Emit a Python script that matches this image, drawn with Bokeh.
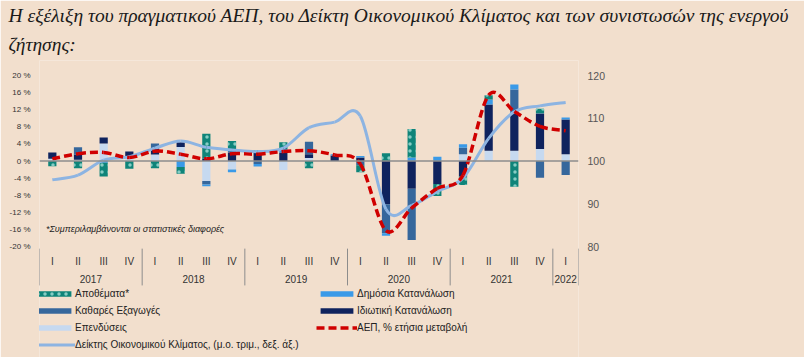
import numpy as np
from bokeh.plotting import figure
from bokeh.models import (Range1d, LinearAxis, FixedTicker, Span, Label, Legend,
                          LegendItem, CustomJSTickFormatter, Title)
from bokeh.embed import file_html
from bokeh.resources import INLINE
from bokeh.core.properties import value

# ---------------- data ----------------
quarters = ["I", "II", "III", "IV"] * 5 + ["I"]
years = ["2017", "2018", "2019", "2020", "2021", "2022"]
quarters_per_year = [4, 4, 4, 4, 4, 1]

# contributions to GDP growth (percentage points)
investment   = [0.5, 0.3, 4.1, 0.8, 1.5, 3.3, -4.7, -2.0, 0.0, -2.1, 0.7, 0.0, 0.0, 0.0, 0.0, 0.0, 1.6, 2.4, 2.4, 2.8, 1.6]
private_cons = [1.5, 1.2, 1.4, 1.4, 1.3, 1.1, 0.6, 2.0, 2.1, 2.0, 0.9, 1.3, 0.8, -10.1, -6.5, -5.4, -3.6, 10.8, 8.8, 8.3, 8.1]
net_exports  = [0.0, 1.7, 0.0, 0.0, 1.3, 0.0, -0.8, 0.4, -0.7, 0.0, 2.9, 0.0, -1.0, -6.8, -12.0, 0.0, 1.5, 0.0, 5.5, -3.9, -3.3]
public_cons  = [0.0, 0.0, -0.4, 0.0, 0.0, -1.4, -0.4, -0.6, -0.6, 0.8, 0.0, 0.3, 0.4, -0.6, 0.8, 1.0, 0.8, 1.2, 1.2, 0.1, 0.5]
inventories  = [-1.2, -1.7, -3.2, -1.8, -1.7, -1.6, 5.8, 2.3, 0.5, 1.6, -1.7, 0.0, -1.6, 1.8, 6.7, -2.8, -2.0, 1.0, -6.0, 1.0, 0.0]

gdp_yoy = [0.5, 1.7, 2.0, 0.8, 2.3, 1.6, 0.5, 1.7, 1.6, 2.2, 2.4, 1.4, -0.7, -16.3, -11.0, -6.4, -3.3, 15.4, 11.6, 8.1, 7.1]
climate = [95.6, 96.7, 100.2, 101.0, 103.0, 104.7, 103.2, 102.6, 102.2, 103.0, 107.8, 109.1, 110.5, 88.7, 89.6, 92.9, 96.0, 105.3, 111.5, 112.9, 113.7]

left_ticks = [-20, -16, -12, -8, -4, 0, 4, 8, 12, 16, 20]
right_ticks = [80, 90, 100, 110, 120]

series_names = ["Επενδύσεις", "Ιδιωτική Κατανάλωση", "Καθαρές Εξαγωγές",
                "Δημόσια Κατανάλωση", "Αποθέματα*"]
gdp_name = "ΑΕΠ, % ετήσια μεταβολή"
climate_name = "Δείκτης Οικονομικού Κλίματος, (μ.ο. τριμ., δεξ. άξ.)"
title_lines = ["Η εξέλιξη του πραγματικού ΑΕΠ, του Δείκτη Οικονομικού Κλίματος και των συνιστωσών της ενεργού",
               "ζήτησης:"]
footnote = "*Συμπεριλαμβάνονται οι στατιστικές διαφορές"

# ---------------- style ----------------
BG = "#f2dfcd"
C_INV = "#c6d9f0"
C_PRIV = "#0f235e"
C_NET = "#36679c"
C_PUB = "#3a9ae8"
C_STK = "#0f8479"
C_RED = "#d00000"
C_CLIM = "#8db4e2"
SANS = "Liberation Sans"

n = len(quarters)
xs = np.arange(1, n + 1, dtype=float)

Y0, Y1 = -45.96, 23.51
p = figure(width=804, height=357, x_range=Range1d(0.5, n + 0.5), y_range=Range1d(Y0, Y1),
           output_backend="svg", toolbar_location=None, x_axis_location=None,
           min_border_left=39, min_border_right=226, min_border_top=60, min_border_bottom=0,
           background_fill_color=BG, border_fill_color=BG, outline_line_color=None)
p.grid.visible = False

# title (two lines; the one added last sits on top)
for t, so in zip(reversed(title_lines), [12, 0]):
    p.add_layout(Title(text=t, align="left", offset=-31, standoff=so,
                       text_font="Liberation Serif", text_font_style="italic",
                       text_font_size="19.5px", text_color="#1a1a1a"), "above")

# left axis
ya = p.yaxis[0]
ya.ticker = FixedTicker(ticks=left_ticks)
ya.formatter = CustomJSTickFormatter(code="return tick + ' %'")
# right axis
p.extra_y_ranges = {"clim": Range1d(Y0 + 100, Y1 + 100)}
ra = LinearAxis(y_range_name="clim", ticker=FixedTicker(ticks=right_ticks))
p.add_layout(ra, "right")
for ax, fs, col in ((ya, "8px", "#333333"), (ra, "10.5px", "#555555")):
    ax.axis_line_color = None
    ax.major_tick_line_color = None
    ax.minor_tick_line_color = None
    ax.major_tick_in = 0
    ax.major_tick_out = 0
    ax.major_label_standoff = 9
    ax.major_label_text_font = SANS
    ax.major_label_text_font_size = fs
    ax.major_label_text_color = col

# stacked bars (positives and negatives stacked separately)
pos_base = np.zeros(n)
neg_base = np.zeros(n)
bars = {}
styles = [
    dict(fill_color=C_INV),
    dict(fill_color=C_PRIV),
    dict(fill_color=C_NET),
    dict(fill_color=C_PUB),
    dict(fill_color=C_STK, hatch_pattern=".", hatch_color="#86cdc4", hatch_scale=7, hatch_weight=1.5),
]
for name, vals, st in zip(series_names,
                          [investment, private_cons, net_exports, public_cons, inventories], styles):
    v = np.array(vals, dtype=float)
    bottom = np.where(v >= 0, pos_base, neg_base + v)
    top = np.where(v >= 0, pos_base + v, neg_base)
    pos_base = np.where(v >= 0, pos_base + v, pos_base)
    neg_base = np.where(v < 0, neg_base + v, neg_base)
    bars[name] = p.vbar(x=xs, width=0.32, bottom=bottom, top=top, line_color=None, **st)

p.add_layout(Span(location=0, dimension="width", line_color="#8c8c8c", line_width=1.5))


def smooth(xv, yv):
    P = np.column_stack([np.asarray(xv, float), np.asarray(yv, float)])
    Pm = np.vstack([P[0], P, P[-1]])
    c0 = P[:-1] + (Pm[2:-1] - Pm[:-3]) / 6.0
    c1 = P[1:] - (Pm[3:] - Pm[1:-2]) / 6.0
    return dict(x0=P[:-1, 0], y0=P[:-1, 1], x1=P[1:, 0], y1=P[1:, 1],
                cx0=c0[:, 0], cy0=c0[:, 1], cx1=c1[:, 0], cy1=c1[:, 1])


r_clim = p.bezier(**smooth(xs, climate), line_color=C_CLIM, line_width=3, y_range_name="clim")
r_gdp = p.bezier(**smooth(xs, gdp_yoy), line_color=C_RED, line_width=3.5, line_dash="8 4")

# category axis (quarters + years) drawn in data space below the bars
p.text(x=xs, y=[-23.5] * n, text=quarters, text_align="center", text_baseline="middle",
       text_font=value(SANS), text_font_size="10px", text_color="#333333")
bounds = np.concatenate([[0.5], 0.5 + np.cumsum(quarters_per_year)])
year_centers = (bounds[:-1] + bounds[1:]) / 2
p.text(x=year_centers, y=[-27.7] * len(years), text=years, text_align="center",
       text_baseline="middle", text_font=value(SANS), text_font_size="10px", text_color="#333333")
p.segment(x0=bounds, y0=[-20.5] * len(bounds), x1=bounds, y1=[-29.1] * len(bounds),
          line_color="#8c8c8c", line_width=1)

p.add_layout(Label(x=0.75, y=-15.8, text=footnote, text_font=SANS, text_font_style="italic",
                   text_font_size="9px", text_baseline="middle", text_color="#222222"))


def make_legend(items, loc):
    lg = Legend(items=[LegendItem(label=value(l), renderers=[r]) for l, r in items], location=loc,
                glyph_width=41, glyph_height=7, label_height=12, spacing=5, padding=0, margin=0,
                border_line_color=None, background_fill_alpha=0, label_standoff=0,
                label_text_font=SANS, label_text_font_size="10px", label_text_color="#222222")
    p.add_layout(lg)


make_legend([("Αποθέματα*", bars["Αποθέματα*"]), ("Καθαρές Εξαγωγές", bars["Καθαρές Εξαγωγές"]),
             ("Επενδύσεις", bars["Επενδύσεις"]), (climate_name, r_clim)], (-5, 7))
make_legend([("Δημόσια Κατανάλωση", bars["Δημόσια Κατανάλωση"]),
             ("Ιδιωτική Κατανάλωση", bars["Ιδιωτική Κατανάλωση"]), (gdp_name, r_gdp)], (277, 24))

open("out.html", "w").write(file_html(p, INLINE))
